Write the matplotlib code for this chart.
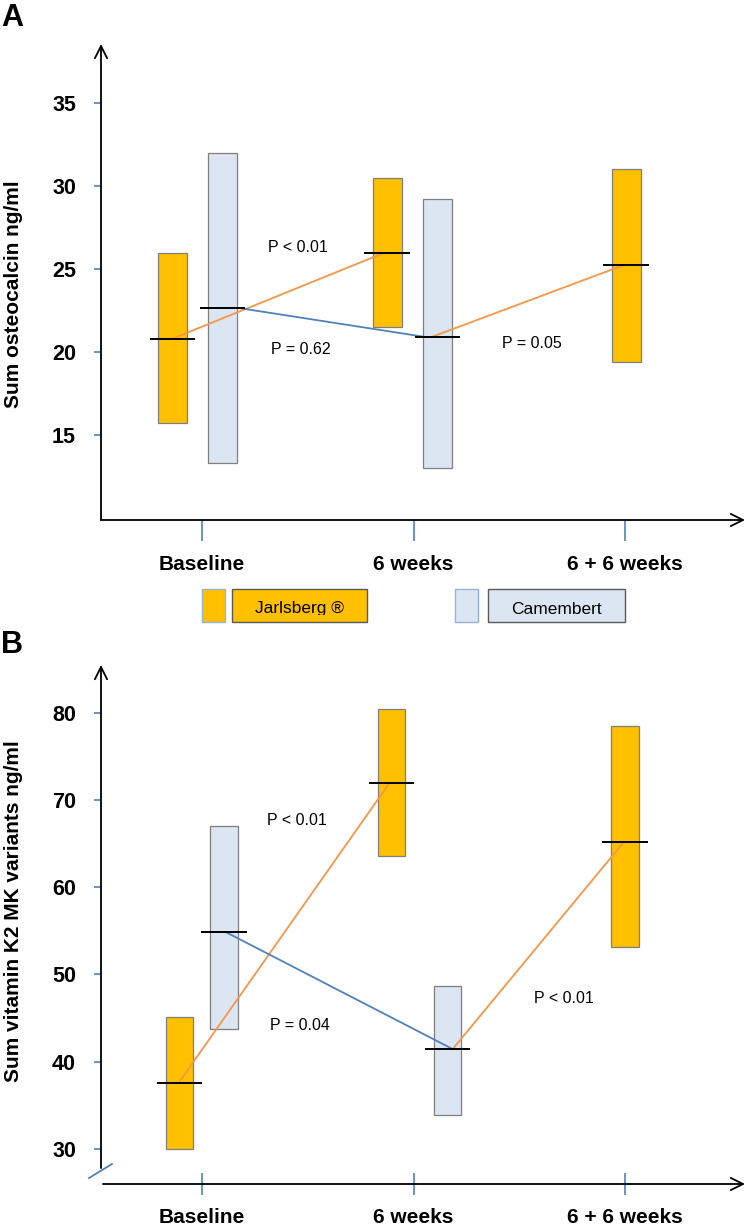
import matplotlib
matplotlib.use("Agg")
import matplotlib.pyplot as plt
from matplotlib.patches import Rectangle
from matplotlib.lines import Line2D
from matplotlib.transforms import Bbox

plt.rcParams["font.family"] = ["Liberation Sans", "DejaVu Sans"]

W, H = 750, 1229

CATEGORIES = ["Baseline", "6 weeks", "6 + 6 weeks"]

# panel A: sum osteocalcin ng/ml (range box + median)
A_JARL_LOW = [15.74, 21.47, 19.41]
A_JARL_HIGH = [25.95, 30.45, 30.99]
A_JARL_MED = [20.8, 25.95, 25.23]
A_CAM_LOW = [13.34, 13.03]
A_CAM_HIGH = [31.99, 29.19]
A_CAM_MED = [22.63, 20.92]
A_PVALUES = ["P < 0.01", "P = 0.62", "P = 0.05"]

# panel B: sum vitamin K2 MK variants ng/ml
B_JARL_LOW = [30.05, 63.6, 53.2]
B_JARL_HIGH = [45.1, 80.4, 78.5]
B_JARL_MED = [37.6, 71.9, 65.2]
B_CAM_LOW = [43.8, 33.85]
B_CAM_HIGH = [67.05, 48.7]
B_CAM_MED = [54.85, 41.45]
B_PVALUES = ["P < 0.01", "P = 0.04", "P < 0.01"]

JARL_COLOR = "#FFC000"
CAM_COLOR = "#DCE6F2"
EDGE = "#7F7F7F"
ORANGE = "#F79646"
BLUE = "#4F81BD"


def fx(px):
    return px / W


def fy(py):
    return 1 - py / H


def px_ax(left, top, right, bottom):
    return [fx(left), fy(bottom), (right - left) / W, (bottom - top) / H]


def draw_panel(ax, jl, jh, jm, cl, ch, cm, layout):
    jx = [i + o for i, o in enumerate(layout["j_off"])]
    cx = [i + o for i, o in enumerate(layout["c_off"])]
    w = layout["bar_w"]
    mw = 0.215

    ax.bar(jx, [h - l for h, l in zip(jh, jl)], bottom=jl, width=w,
           color=JARL_COLOR, edgecolor=EDGE, linewidth=0.9, zorder=2)
    ax.bar(cx, [h - l for h, l in zip(ch, cl)], bottom=cl, width=w,
           color=CAM_COLOR, edgecolor=EDGE, linewidth=0.9, zorder=2)

    lx = layout["line_x"]
    ax.plot([lx[0], lx[1]], [jm[0], jm[1]], color=ORANGE, lw=1.3, zorder=3)
    ax.plot([lx[2], lx[3]], [cm[0], cm[1]], color=BLUE, lw=1.3, zorder=3)
    ax.plot([lx[4], lx[5]], [cm[1], jm[2]], color=ORANGE, lw=1.3, zorder=3)

    ax.hlines(jm, [x - mw / 2 for x in jx], [x + mw / 2 for x in jx],
              color="black", lw=1.4, zorder=4)
    ax.hlines(cm, [x - mw / 2 for x in cx], [x + mw / 2 for x in cx],
              color="black", lw=1.4, zorder=4)

    for spine in ax.spines.values():
        spine.set_visible(False)
    ax.patch.set_visible(False)


fig = plt.figure(figsize=(W / 100, H / 100), dpi=100)

XLIM = (-0.4775, 2.567)

# ---------- panel A ----------
axA = fig.add_axes(px_ax(101, 44, 745, 520))
layoutA = {
    "j_off": [-0.139, -0.125, 0.005],
    "c_off": [0.097, 0.113],
    "bar_w": 0.137,
    "line_x": [-0.139, 0.858, 0.18, 1.045, 1.09, 1.995],
}
draw_panel(axA, A_JARL_LOW, A_JARL_HIGH, A_JARL_MED,
           A_CAM_LOW, A_CAM_HIGH, A_CAM_MED, layoutA)
axA.set_xlim(*XLIM)
axA.set_ylim(9.884, 38.53)
axA.set_yticks([15, 20, 25, 30, 35])
axA.tick_params(axis="y", direction="out", length=5, width=1.2, color=BLUE,
                pad=13, labelsize=15.5)
axA.set_xticks([0, 1, 2])
axA.set_xticklabels(CATEGORIES)
axA.tick_params(axis="x", direction="out", length=15, width=1.2, color=BLUE,
                pad=10, labelsize=15)
for lab in axA.get_xticklabels() + axA.get_yticklabels():
    lab.set_fontweight("bold")
axA.annotate("", xy=(0, 1), xytext=(0, 0), xycoords="axes fraction",
             arrowprops=dict(arrowstyle="->", lw=1.3, color="black",
                             shrinkA=0, shrinkB=0, mutation_scale=22))
axA.annotate("", xy=(1, 0), xytext=(0, 0), xycoords="axes fraction",
             arrowprops=dict(arrowstyle="->", lw=1.3, color="black",
                             shrinkA=0, shrinkB=0, mutation_scale=22))
for txt, (x, y) in zip(A_PVALUES, [(0.452, 26.31), (0.468, 20.17), (1.558, 20.48)]):
    axA.text(x, y, txt, ha="center", va="center", fontsize=11.5)

fig.text(fx(14), fy(294), "Sum osteocalcin ng/ml", rotation=90,
         ha="center", va="center", fontsize=15, fontweight="bold")
fig.text(fx(1), fy(3), "A", ha="left", va="top", fontsize=22, fontweight="bold")

# ---------- legend ----------
legend_items = [
    (202, 225, 232, 367, JARL_COLOR, "Jarlsberg \u00ae"),
    (455, 478, 488, 625, CAM_COLOR, "Camembert"),
]
for s0, s1, b0, b1, col, name in legend_items:
    fig.patches.append(Rectangle((fx(s0), fy(622)), (s1 - s0) / W, 33 / H,
                                 transform=fig.transFigure, facecolor=col,
                                 edgecolor="#95B3D7", lw=1.0))
    fig.patches.append(Rectangle((fx(b0), fy(622)), (b1 - b0) / W, 33 / H,
                                 transform=fig.transFigure, facecolor=col,
                                 edgecolor="#595959", lw=1.0))
    t = fig.text(fx((b0 + b1) / 2), fy(609), name, ha="center", va="center",
                 fontsize=12.5)
    if "Jarlsberg" in name:
        # the original label is cut off at its bottom edge
        t.set_clip_box(Bbox([[b0, H - 615], [b1, H - 590]]))
        t.set_clip_on(True)

# ---------- panel B ----------
axB = fig.add_axes(px_ax(101, 665, 745, 1184))
layoutB = {
    "j_off": [-0.107, -0.104, 0.0],
    "c_off": [0.104, 0.161],
    "bar_w": 0.13,
    "line_x": [-0.11, 0.885, 0.113, 1.185, 1.185, 1.995],
}
draw_panel(axB, B_JARL_LOW, B_JARL_HIGH, B_JARL_MED,
           B_CAM_LOW, B_CAM_HIGH, B_CAM_MED, layoutB)
axB.set_xlim(*XLIM)
axB.set_ylim(25.99, 85.46)
axB.set_yticks([30, 40, 50, 60, 70, 80])
axB.tick_params(axis="y", direction="out", length=5, width=1.2, color=BLUE,
                pad=13, labelsize=15.5)
axB.set_xticks([0, 1, 2])
axB.set_xticklabels(CATEGORIES)
axB.tick_params(axis="x", direction="inout", length=16, width=1.2, color=BLUE,
                pad=9, labelsize=15)
for lab in axB.get_xticklabels() + axB.get_yticklabels():
    lab.set_fontweight("bold")
y_break = (1184 - 1168) / (1184 - 665)
axB.annotate("", xy=(0, 1), xytext=(0, y_break), xycoords="axes fraction",
             arrowprops=dict(arrowstyle="->", lw=1.3, color="black",
                             shrinkA=0, shrinkB=0, mutation_scale=22))
axB.annotate("", xy=(1, 0), xytext=(0.003, 0), xycoords="axes fraction",
             arrowprops=dict(arrowstyle="->", lw=1.3, color="black",
                             shrinkA=0, shrinkB=0, mutation_scale=22))
fig.lines.append(Line2D([fx(89), fx(112)], [fy(1178), fy(1164)],
                        transform=fig.transFigure, color=BLUE, lw=1.3))
for txt, (x, y) in zip(B_PVALUES, [(0.447, 67.6), (0.463, 44.12), (1.712, 47.2)]):
    axB.text(x, y, txt, ha="center", va="center", fontsize=11.5)

fig.text(fx(14), fy(911), "Sum vitamin K2 MK variants ng/ml", rotation=90,
         ha="center", va="center", fontsize=15, fontweight="bold")
fig.text(fx(1), fy(630), "B", ha="left", va="top", fontsize=22, fontweight="bold")

fig.savefig("out.png", dpi=100)
